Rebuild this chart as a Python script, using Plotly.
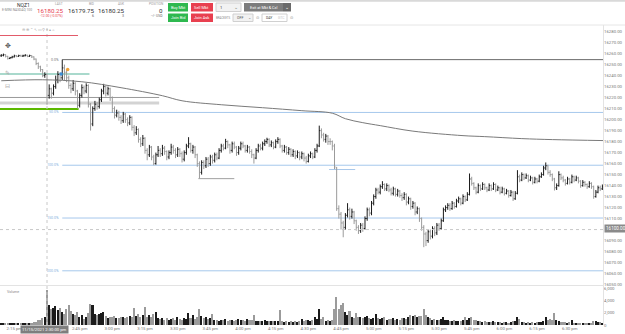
import plotly.graph_objects as go

# ---------------- data (1-minute bars, minute 0 = 2:30 pm) ----------------
FIRST_MIN = -21  # 2:09 pm

OPEN = [
    16258, 16258.5, 16259, 16257.5, 16255.5, 16256.25, 16257, 16258, 16257.5, 16258.25,
    16257.75, 16258, 16258.5, 16257.5, 16258.25, 16257, 16255, 16251, 16248, 16245.5,
    16240, 16241, 16222, 16228, 16224, 16230, 16236, 16241, 16238, 16247,
    16243, 16238, 16231, 16228, 16233, 16226, 16213, 16222, 16229, 16226,
    16231, 16214, 16196, 16210, 16214, 16212, 16218, 16226, 16230, 16224,
    16228, 16220, 16210, 16204, 16206, 16202, 16199, 16205, 16200, 16197,
    16202, 16193, 16188, 16191, 16182, 16178, 16183, 16172, 16168, 16175,
    16166, 16160, 16168, 16172, 16169, 16174, 16171, 16166, 16170, 16175,
    16172, 16168, 16173, 16169, 16164, 16170, 16176, 16178, 16172, 16175,
    16168, 16160, 16152, 16161, 16158, 16164, 16160, 16166, 16163, 16168,
    16165, 16172, 16176, 16174, 16180, 16177, 16172, 16178, 16175, 16170,
    16174, 16178, 16176, 16172, 16175, 16171, 16168, 16165, 16172, 16176,
    16174, 16178, 16180, 16182, 16177, 16179, 16175, 16180, 16182, 16176,
    16172, 16175, 16170, 16173, 16168, 16171, 16167, 16170, 16166, 16169,
    16165, 16162, 16167, 16169, 16166, 16172, 16176, 16190, 16186, 16182,
    16185, 16180, 16180, 16176, 16156, 16119, 16114, 16106, 16102, 16113,
    16118, 16112, 16116, 16108, 16102, 16099, 16104, 16101, 16110, 16118,
    16115, 16124, 16130, 16136, 16134, 16139, 16141, 16137, 16140, 16136,
    16133, 16137, 16132, 16135, 16131, 16129, 16132, 16125, 16128, 16121,
    16124, 16116, 16119, 16110, 16102, 16096, 16090, 16098, 16094, 16101,
    16097, 16104, 16101, 16108, 16118, 16120, 16122, 16119, 16124, 16121,
    16126, 16128, 16124, 16130, 16127, 16132, 16146, 16142, 16138, 16134,
    16140, 16137, 16141, 16138, 16136, 16140, 16137, 16141, 16136, 16138,
    16134, 16137, 16133, 16135, 16131, 16134, 16128, 16133, 16148, 16145,
    16150, 16147, 16149, 16145, 16147, 16143, 16146, 16144, 16148, 16150,
    16156, 16158, 16152, 16150, 16146, 16138, 16140, 16150, 16147, 16145,
    16142, 16146, 16143, 16148, 16145, 16147, 16144, 16140, 16143, 16141,
    16139, 16142, 16139, 16130, 16134, 16138, 16137,
]

HIGH = [
    16259.5, 16260, 16259.5, 16258, 16257, 16258, 16259, 16258.75, 16259, 16259,
    16259, 16259.5, 16259, 16259, 16258.5, 16257.5, 16255.5, 16252, 16249, 16246,
    16243, 16242, 16232, 16229, 16232, 16240, 16244, 16243, 16254.5, 16250,
    16246, 16240, 16233, 16236, 16234, 16227, 16224, 16232, 16231, 16233,
    16232, 16215, 16212, 16217, 16216, 16220, 16228, 16232.5, 16231, 16230,
    16229, 16221, 16212, 16209, 16208, 16204, 16207, 16206, 16202, 16204,
    16203, 16195, 16194, 16192, 16184, 16186, 16184, 16174, 16177, 16176,
    16168, 16170, 16176, 16174, 16177, 16176, 16172, 16172, 16178, 16177,
    16174, 16175, 16174, 16171, 16172, 16178, 16184, 16179, 16177, 16176,
    16169, 16162, 16163, 16163, 16166, 16166, 16168, 16168, 16170, 16170,
    16174, 16178, 16178, 16182.5, 16181, 16178, 16180, 16180, 16176, 16176,
    16180, 16180, 16177, 16177, 16176, 16173, 16169, 16174, 16178, 16178,
    16180, 16182, 16183.5, 16183, 16181, 16180, 16182, 16184, 16183, 16177,
    16177, 16176, 16175, 16174, 16173, 16172, 16172, 16171, 16171, 16170,
    16167, 16169, 16171, 16170, 16174, 16178, 16194.5, 16192, 16188, 16187,
    16186, 16183, 16181, 16178, 16157, 16122, 16116, 16108, 16115, 16124,
    16120, 16119, 16117, 16109, 16104, 16106, 16106, 16112, 16120, 16120,
    16126, 16132, 16138, 16138, 16141, 16144, 16142, 16142, 16141, 16138,
    16139, 16138, 16137, 16136, 16133, 16134, 16133, 16130, 16129, 16126,
    16125, 16121, 16120, 16111, 16104, 16098, 16100, 16100, 16103, 16103,
    16106, 16106, 16110, 16120, 16122, 16124, 16124, 16126, 16125, 16128,
    16130, 16129, 16132, 16131, 16134, 16151, 16148, 16143, 16139, 16142,
    16141, 16143, 16142, 16139, 16142, 16141, 16143, 16142, 16140, 16139,
    16139, 16138, 16137, 16136, 16136, 16135, 16135, 16154, 16150, 16152,
    16151, 16151, 16150, 16149, 16148, 16148, 16147, 16150, 16152, 16158,
    16161, 16159, 16154, 16151, 16147, 16142, 16153, 16151, 16149, 16146,
    16148, 16147, 16150, 16149, 16149, 16148, 16145, 16145, 16144, 16142,
    16144, 16143, 16140, 16136, 16140, 16140, 16141,
]

LOW = [
    16257, 16257.5, 16256.5, 16254.5, 16255, 16255.75, 16256.5, 16256.75, 16257, 16257,
    16257, 16257.5, 16256.75, 16257, 16256, 16254, 16249.5, 16246, 16243.5, 16238.5,
    16238, 16213.5, 16219, 16219, 16222, 16228, 16233, 16234, 16236, 16236,
    16234, 16228, 16224, 16226, 16222, 16210, 16211, 16220, 16223, 16224,
    16211, 16190, 16194, 16208, 16209, 16210, 16216, 16223, 16221, 16222,
    16217, 16206, 16201, 16202, 16199, 16196, 16197, 16197, 16194, 16195,
    16190, 16185, 16186, 16179, 16175, 16176, 16169, 16163, 16166, 16163,
    16158.5, 16159, 16166, 16166, 16167, 16168, 16163, 16164, 16168, 16169,
    16165, 16166, 16166, 16161, 16162, 16168, 16174, 16170, 16169, 16165,
    16157, 16146.5, 16150, 16155, 16156, 16157, 16158, 16160, 16161, 16163,
    16164, 16170, 16172, 16173, 16174, 16169, 16170, 16173, 16167, 16168,
    16172, 16174, 16170, 16170, 16169, 16165, 16160, 16164, 16170, 16172,
    16172, 16176, 16178, 16175, 16175, 16173, 16174, 16178, 16174, 16170,
    16170, 16168, 16168, 16166, 16166, 16164, 16165, 16163, 16164, 16162,
    16160, 16161, 16165, 16164, 16165, 16170, 16175, 16183, 16180, 16179,
    16177, 16177, 16172, 16155, 16117, 16110, 16100, 16093, 16100, 16111,
    16109, 16110, 16105, 16099, 16096, 16097, 16098, 16100, 16108, 16112,
    16113, 16122, 16128, 16132, 16132, 16137, 16135, 16135, 16134, 16131,
    16131, 16130, 16130, 16129, 16126, 16127, 16122, 16123, 16118, 16119,
    16113, 16114, 16107, 16099, 16084, 16085, 16088, 16091, 16092, 16094,
    16095, 16099, 16100, 16107, 16116, 16118, 16117, 16118, 16119, 16120,
    16124, 16122, 16123, 16125, 16126, 16131, 16140, 16136, 16132, 16133,
    16135, 16136, 16136, 16134, 16135, 16135, 16136, 16134, 16135, 16132,
    16133, 16131, 16132, 16129, 16130, 16126, 16127, 16132, 16143, 16144,
    16145, 16146, 16143, 16144, 16141, 16142, 16142, 16143, 16147, 16149,
    16154, 16150, 16148, 16144, 16135.5, 16136, 16139, 16145, 16143, 16140,
    16141, 16141, 16142, 16143, 16144, 16142, 16138, 16139, 16139, 16137,
    16138, 16137, 16128, 16129, 16133, 16135, 16136,
]

CLOSE = [
    16258.5, 16259, 16257.5, 16255.5, 16256.25, 16257, 16258, 16257.5, 16258.25, 16257.75,
    16258, 16258.5, 16257.5, 16258.25, 16257, 16255, 16251, 16248, 16245.5, 16240,
    16241, 16222, 16228, 16224, 16230, 16236, 16241, 16238, 16247, 16243,
    16238, 16231, 16228, 16233, 16226, 16213, 16222, 16229, 16226, 16231,
    16214, 16196, 16210, 16214, 16212, 16218, 16226, 16230, 16224, 16228,
    16220, 16210, 16204, 16206, 16202, 16199, 16205, 16200, 16197, 16202,
    16193, 16188, 16191, 16182, 16178, 16183, 16172, 16168, 16175, 16166,
    16160, 16168, 16172, 16169, 16174, 16171, 16166, 16170, 16175, 16172,
    16168, 16173, 16169, 16164, 16170, 16176, 16178, 16172, 16175, 16168,
    16160, 16152, 16161, 16158, 16164, 16160, 16166, 16163, 16168, 16165,
    16172, 16176, 16174, 16180, 16177, 16172, 16178, 16175, 16170, 16174,
    16178, 16176, 16172, 16175, 16171, 16168, 16165, 16172, 16176, 16174,
    16178, 16180, 16182, 16177, 16179, 16175, 16180, 16182, 16176, 16172,
    16175, 16170, 16173, 16168, 16171, 16167, 16170, 16166, 16169, 16165,
    16162, 16167, 16169, 16166, 16172, 16176, 16190, 16186, 16182, 16185,
    16180, 16180, 16176, 16157, 16119, 16114, 16106, 16102, 16113, 16118,
    16112, 16116, 16108, 16102, 16099, 16104, 16101, 16110, 16118, 16115,
    16124, 16130, 16136, 16134, 16139, 16141, 16137, 16140, 16136, 16133,
    16137, 16132, 16135, 16131, 16129, 16132, 16125, 16128, 16121, 16124,
    16116, 16119, 16110, 16102, 16096, 16090, 16098, 16094, 16101, 16097,
    16104, 16101, 16108, 16118, 16120, 16122, 16119, 16124, 16121, 16126,
    16128, 16124, 16130, 16127, 16132, 16146, 16142, 16138, 16134, 16140,
    16137, 16141, 16138, 16136, 16140, 16137, 16141, 16136, 16138, 16134,
    16137, 16133, 16135, 16131, 16134, 16128, 16133, 16148, 16145, 16150,
    16147, 16149, 16145, 16147, 16143, 16146, 16144, 16148, 16150, 16156,
    16158, 16152, 16150, 16146, 16138, 16140, 16150, 16147, 16145, 16142,
    16146, 16143, 16148, 16145, 16147, 16144, 16140, 16143, 16141, 16139,
    16142, 16139, 16130, 16134, 16138, 16137, 16139,
]

VOLUME = [
    200, 250, 300, 350, 400, 300, 250, 200, 350, 250,
    200, 180, 250, 200, 300, 450, 550, 900, 800, 1100,
    1300, 5800, 3300, 2600, 2800, 3100, 2400, 2800, 2200, 1850,
    2600, 3300, 2250, 1850, 1600, 2100, 1300, 1600, 1050, 1300,
    2000, 3450, 3300, 1900, 1700, 1800, 2000, 2100, 1500, 1200,
    1400, 1300, 1500, 1200, 1100, 1300, 1400, 1200, 1300, 1500,
    1400, 2850, 1500, 1850, 1300, 1600, 3000, 1400, 1700, 1300,
    1900, 2100, 1200, 1000, 1100, 900, 1200, 800, 1000, 1100,
    900, 1300, 1000, 900, 1100, 1000, 2000, 1200, 1600, 1000,
    1400, 2600, 1500, 1200, 1300, 1000, 1100, 1900, 900, 800,
    700, 900, 800, 1000, 700, 800, 900, 700, 900, 1000,
    800, 900, 700, 1000, 900, 800, 1600, 700, 600, 700,
    650, 800, 600, 700, 600, 700, 650, 700, 2400, 600,
    500, 650, 550, 600, 500, 600, 500, 650, 1050, 600,
    800, 900, 700, 800, 1300, 1000, 2600, 1000, 1300, 700,
    750, 650, 800, 2600, 4700, 2600, 3300, 3700, 2100, 1700,
    2250, 1300, 1200, 2000, 1300, 1400, 1200, 1300, 1500, 1100,
    1000, 1200, 1900, 1200, 1000, 1100, 1300, 900, 1000, 1000,
    1100, 900, 1000, 800, 1100, 1200, 1000, 1400, 1600, 1500,
    1600, 1300, 1500, 1500, 2600, 1700, 1300, 1100, 900, 1000,
    800, 900, 1000, 1300, 900, 800, 700, 600, 800, 700,
    600, 700, 900, 1300, 900, 1200, 1300, 900, 800, 700,
    600, 500, 600, 450, 550, 500, 600, 450, 500, 550,
    400, 500, 450, 400, 500, 600, 700, 1300, 1000, 500,
    450, 400, 500, 350, 450, 400, 500, 450, 500, 700,
    1400, 800, 1000, 800, 2000, 800, 700, 500, 450, 550,
    400, 500, 800, 350, 300, 250, 350, 300, 300, 350,
    300, 400, 700, 600, 500, 450, 400,
]

# moving average (read at turning points)
MA_MIN = [-21, -2, 16, 34, 53, 62, 80, 99, 117, 131, 137, 145, 153, 168, 191, 201, 218, 232, 256]
MA_VAL = [16235.3, 16236.2, 16234.4, 16229.0, 16221.7, 16217.1, 16213.5, 16210.8, 16208.1,
          16205.8, 16200.8, 16197.2, 16194.5, 16189.5, 16185.4, 16184.5, 16182.7, 16181.8, 16180.9]

# fibonacci extension levels
FIB_START_MIN = 7
FIB_LABELS = ["0.0%", "50.0%", "100.0%", "150.0%", "200.0%"]
FIB_PRICES = [16254.5, 16206.5, 16158.5, 16110.5, 16062.5]

# short horizontal level marks
LEVEL_START = [-22, -22, -22, -22, 69.5, 129.5]
LEVEL_END = [19.5, 51.5, 51.5, 14.5, 86, 141.5]
LEVEL_PRICE = [16241.4, 16220.1, 16215.0, 16209.6, 16146.3, 16154.6]
LEVEL_COLOR = ["#a9d9cc", "#9a9a9a", "#d3d3d3", "#5cb800", "#a0a0a0", "#a8c8ea"]
LEVEL_WIDTH = [2, 1, 3, 2, 1, 1]

FILL_MIN = [6.5, 9.5]
FILL_PRICE = [16241.5, 16245.5]
FILL_COLOR = ["#3d8fd8", "#f0a33a"]

CROSS_MIN = 0
CROSS_PRICE = 16100
CROSS_TIME_TXT = "11/15/2021 2:30:00 pm"

# time ticks (2:30 pm is hidden under the crosshair time label)
TICK_MIN = [-15, 15, 30, 45, 60, 75, 90, 105, 120, 135, 150, 165, 180, 195, 210, 225, 240]
TICK_TXT = ["2:15 pm", "2:45 pm", "3:00 pm", "3:15 pm", "3:30 pm", "3:45 pm", "4:00 pm",
            "4:15 pm", "4:30 pm", "4:45 pm", "5:00 pm", "5:15 pm", "5:30 pm", "5:45 pm", "6:00 pm",
            "6:15 pm", "6:30 pm"]
# price ticks (16100 is shown by the crosshair price label)
PRICE_TICKS = [v for v in range(16050, 16290, 10) if v != CROSS_PRICE]
VOL_TICKS = [0, 2000, 4000, 6000]
VOL_TICK_TXT = ["0", "2,000", "4,000", "6,000"]

# ---------------- figure ----------------
n = min(len(OPEN), len(HIGH), len(LOW), len(CLOSE), len(VOLUME))
OPEN, HIGH, LOW, CLOSE, VOLUME = OPEN[:n], HIGH[:n], LOW[:n], CLOSE[:n], VOLUME[:n]
BAR_MIN = [FIRST_MIN + i for i in range(n)]

W, H = 625, 334
ML, MR, MT, MB = 0, 22, 25, 9
PW = W - ML - MR
PH = H - MT - MB
FONT = "Roboto"
UP, DOWN = "#1b1b1b", "#9b9b9b"


def px(x):
    return (x - ML) / PW


def py(y):
    return (H - MB - y) / PH


fig = go.Figure()

fig.add_trace(go.Ohlc(
    x=BAR_MIN, open=OPEN, high=HIGH, low=LOW, close=CLOSE,
    increasing=dict(line=dict(color=UP, width=1)),
    decreasing=dict(line=dict(color=DOWN, width=1)),
    tickwidth=0.45, xaxis="x", yaxis="y", hoverinfo="skip", showlegend=False))

fig.add_trace(go.Scatter(
    x=MA_MIN, y=MA_VAL, mode="lines", line=dict(color="#7a7a7a", width=1, shape="spline"),
    xaxis="x", yaxis="y", hoverinfo="skip", showlegend=False))

fig.add_trace(go.Scatter(
    x=FILL_MIN, y=FILL_PRICE, mode="markers",
    marker=dict(color=FILL_COLOR, size=3.5, line=dict(width=0)),
    xaxis="x", yaxis="y", hoverinfo="skip", showlegend=False))

vol_colors = [UP if c >= o else DOWN for o, c in zip(OPEN, CLOSE)]
fig.add_trace(go.Bar(
    x=BAR_MIN, y=VOLUME, marker=dict(color=vol_colors, line=dict(width=0)), width=0.7,
    xaxis="x", yaxis="y2", hoverinfo="skip", showlegend=False))

shapes = []
annotations = []

X_LO, X_HI = -21.58, 255.28

for lab, p in zip(FIB_LABELS, FIB_PRICES):
    col = "#6a6a6a" if lab == "0.0%" else "#a6c8ec"
    shapes.append(dict(type="line", xref="x", yref="y", x0=FIB_START_MIN, x1=X_HI, y0=p, y1=p,
                       line=dict(color=col, width=1), layer="below"))
    annotations.append(dict(xref="x", yref="y", x=FIB_START_MIN - 0.6, y=p, text=lab, showarrow=False,
                            xanchor="right", yanchor="middle",
                            font=dict(size=3.6, color="#777" if lab == "0.0%" else "#86b1e0", family=FONT)))

for x0, x1, p, c, w in zip(LEVEL_START, LEVEL_END, LEVEL_PRICE, LEVEL_COLOR, LEVEL_WIDTH):
    shapes.append(dict(type="line", xref="x", yref="y", x0=x0, x1=x1, y0=p, y1=p,
                       line=dict(color=c, width=w), layer="below"))

# crosshair
shapes.append(dict(type="line", xref="x", yref="paper", x0=CROSS_MIN, x1=CROSS_MIN, y0=0, y1=1,
                   line=dict(color="#c8c8c8", width=1, dash="dot")))
shapes.append(dict(type="line", xref="paper", yref="y", x0=0, x1=1, y0=CROSS_PRICE, y1=CROSS_PRICE,
                   line=dict(color="#c8c8c8", width=1, dash="dot")))

# frame lines
shapes.append(dict(type="line", xref="paper", yref="paper", x0=0, x1=1, y0=py(285.5), y1=py(285.5),
                   line=dict(color="#e3e3e3", width=1)))
shapes.append(dict(type="line", xref="paper", yref="paper", x0=px(603.5), x1=px(603.5), y0=py(325), y1=py(25),
                   line=dict(color="#e3e3e3", width=1)))
shapes.append(dict(type="line", xref="paper", yref="paper", x0=0, x1=px(625), y0=py(25), y1=py(25),
                   line=dict(color="#e6e6e6", width=1)))
shapes.append(dict(type="line", xref="paper", yref="paper", x0=0, x1=px(625), y0=py(0.8), y1=py(0.8),
                   line=dict(color="#d9d9d9", width=2)))
shapes.append(dict(type="line", xref="paper", yref="paper", x0=0, x1=px(78), y0=py(35.5), y1=py(35.5),
                   line=dict(color="#e25b6a", width=1)))


def rect(x0, y0, x1, y1, fill, line=None):
    shapes.append(dict(type="rect", xref="paper", yref="paper", x0=px(x0), x1=px(x1), y0=py(y1), y1=py(y0),
                       fillcolor=fill, line=dict(color=line or fill, width=1 if line else 0)))


def text(x, y, s, size, color, anchor="center", bg=None):
    d = dict(xref="paper", yref="paper", x=px(x), y=py(y), text=s,
             showarrow=False, xanchor=anchor, yanchor="middle",
             font=dict(size=size, color=color, family=FONT))
    if bg:
        d.update(bgcolor=bg, borderpad=1)
    annotations.append(d)


GREEN, RED = "#2eb84f", "#e8404f"
# header
text(23, 5, "NQZ1", 5, "#333")
text(17, 10, "E-MINI NASDAQ 100", 3.3, "#888")
text(64.5, 3.6, "LAST", 3.2, "#999", "right")
text(64.5, 10.8, "16180.25", 6.2, RED, "right")
text(64.5, 16.3, "-12.00 (-0.07%)", 3.4, RED, "right")
text(96, 3.6, "BID", 3.2, "#999", "right")
text(96, 10.8, "16179.75", 6.2, "#333", "right")
text(96, 16.3, "6", 3.6, "#666", "right")
text(126, 3.6, "ASK", 3.2, "#999", "right")
text(126, 10.8, "16180.25", 6.2, "#333", "right")
text(126, 16.3, "3", 3.6, "#666", "right")
text(165, 4, "POSITION", 3.2, "#999", "right")
text(165, 10.8, "0", 6.2, "#333", "right")
text(165, 16.3, "--/- USD", 3.4, "#666", "right")

rect(168, 3, 188, 11.5, GREEN)
rect(191, 3, 213, 11.5, RED)
rect(168, 13.5, 188, 22, GREEN)
rect(191, 13.5, 213, 22, RED)
text(178, 7.3, "Buy Mkt", 4, "white")
text(202, 7.3, "Sell Mkt", 4, "white")
text(178, 17.8, "Join Bid", 4, "white")
text(202, 17.8, "Join Ask", 4, "white")

rect(216, 3, 241, 11.5, "#f2f2f2", "#d0d0d0")
text(221, 7.3, "1", 4.2, "#444")
text(236, 7.3, "⌄", 4.5, "#777")
rect(244, 3, 283, 11.5, "#7c7c7c")
rect(283, 3, 291, 11.5, "#6a6a6a")
text(263.5, 7.3, "Exit at Mkt &amp; Cxl", 3.8, "white")
text(287, 7.3, "⌄", 4.5, "white")

text(224, 17.8, "BRACKETS", 2.9, "#888")
rect(233, 14, 253, 21.5, "#f2f2f2", "#d0d0d0")
text(240, 17.8, "OFF", 3.6, "#555")
text(249, 17.8, "⌄", 4, "#777")
text(257.5, 17.8, "⊙", 4.2, "#888")
rect(262, 14, 287, 21.5, "#ffffff", "#d0d0d0")
text(268.5, 17.8, "DAY", 3.4, "#444")
text(281, 17.8, "GTC", 3.4, "#c4c4c4")
text(291.5, 17.8, "⊙", 4.2, "#888")

# left toolbar
text(38, 30.5, "⊖ ⊕ ⌃ ↖ ▭ ⚲ ⌖ ▴ ⌂", 3.6, "#aaa")
text(7.5, 46, "✥", 6.5, "#555")
text(7.5, 72.5, "✎", 5.5, "#aaa")
text(7.5, 86, "⊟", 5.5, "#aaa")

text(5, 291.5, "Volume", 3.6, "#888", "left")

# crosshair labels
text(603.5, 228.7, "%.2f" % CROSS_PRICE, 4.6, "white", "left", bg="#8a8a8a")
text(45, 329.3, CROSS_TIME_TXT, 4.2, "white", "center", bg="#7e7e7e")

fig.update_layout(
    width=W, height=H, margin=dict(l=ML, r=MR, t=MT, b=MB, pad=0),
    paper_bgcolor="white", plot_bgcolor="white", showlegend=False, bargap=0,
    font=dict(family=FONT, size=5, color="#777"),
    xaxis=dict(range=[X_LO, X_HI], anchor="y2", tickmode="array", tickvals=TICK_MIN, ticktext=TICK_TXT,
               showgrid=False, zeroline=False, showline=False, ticks="",
               tickfont=dict(size=4.3, color="#777", family=FONT), rangeslider=dict(visible=False), fixedrange=True),
    yaxis=dict(domain=[py(285), 1], range=[16049.6, 16286], side="right", anchor="x",
               tickmode="array", tickvals=PRICE_TICKS, ticktext=["%.2f" % v for v in PRICE_TICKS],
               showgrid=False, zeroline=False, ticks="", tickfont=dict(size=4.3, color="#777", family=FONT)),
    yaxis2=dict(domain=[0, py(286)], range=[0, 6450], side="right", anchor="x",
                tickmode="array", tickvals=VOL_TICKS, ticktext=VOL_TICK_TXT,
                showgrid=False, zeroline=False, ticks="", tickfont=dict(size=4.3, color="#777", family=FONT)),
    shapes=shapes, annotations=annotations,
)

fig.write_html("out.html")
